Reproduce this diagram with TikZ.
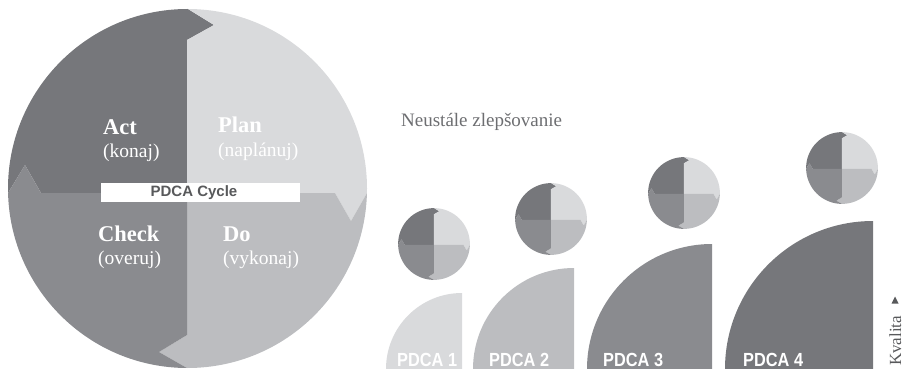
\documentclass[tikz,border=0pt]{standalone}
\usepackage{fontspec}
\setmainfont{Liberation Serif}
\setsansfont{Liberation Sans}
\newfontfamily\tagfont[FakeStretch=0.86]{Liberation Sans Bold}

\definecolor{actc}{HTML}{76777B}
\definecolor{planc}{HTML}{D9DADC}
\definecolor{doc}{HTML}{BCBDC0}
\definecolor{checkc}{HTML}{8A8B8F}
\definecolor{inkgray}{HTML}{58595B}
\definecolor{mottogray}{HTML}{6D6E71}

\tikzset{
  % four-quadrant cycle disc, origin at the disc centre, radius 179.5
  pdca/.pic={
    \begin{scope}
      \clip (0,0) circle[radius=179.5pt];
      \fill[actc] (-0.5,4.5) -- (-0.5,-148.5) -- (26.5,-163.5) -- (0.5,-179.5)
        -- (0.5,-250) -- (-250,-250) -- (-250,4.5) -- (-179.5,4.5)
        -- (-162.5,-23.5) -- (-146.5,4.5) -- cycle;
      \fill[planc] (-0.5,4.5) -- (-0.5,-148.5) -- (26.5,-163.5) -- (0.5,-179.5)
        -- (0.5,-250) -- (250,-250) -- (250,4.5) -- (179.5,4.5)
        -- (163.5,32.5) -- (147.5,4.5) -- cycle;
      \fill[doc] (-0.5,4.5) -- (147.5,4.5) -- (163.5,32.5) -- (179.5,4.5)
        -- (250,4.5) -- (250,250) -- (-0.5,250) -- (-0.5,179.5)
        -- (-28.5,163.5) -- (-0.5,146.5) -- cycle;
      \fill[checkc] (-0.5,4.5) -- (-0.5,146.5) -- (-28.5,163.5) -- (-0.5,179.5)
        -- (-0.5,250) -- (-250,250) -- (-250,4.5) -- (-179.5,4.5)
        -- (-162.5,-23.5) -- (-146.5,4.5) -- cycle;
    \end{scope}
  },
  qtitle/.style={font=\bfseries\fontsize{22.5}{24}\selectfont, text=white,
    anchor=base west, inner sep=0pt},
  qsub/.style={font=\fontsize{19.5}{21}\selectfont, text=white,
    anchor=base west, inner sep=0pt},
  tag/.style={font=\tagfont\fontsize{19}{20}\selectfont, text=white,
    anchor=base west, inner sep=0pt},
}

% quarter disc standing on the bottom edge: colour, corner x, corner y, radius
\newcommand\quarterdisc[4]{%
  \begin{scope}
    \clip (#2-#4,#3-#4) rectangle (#2,#3);
    \fill[#1] (#2,#3) circle[radius=#4pt];
  \end{scope}}

\begin{document}
\begin{tikzpicture}[x=1pt,y=-1pt]
\useasboundingbox (0,0) rectangle (903,369);

% main cycle
\pic (big) at (187.5,188.5) {pdca};

\node[qtitle] (act) at (103,135) {Act};
\node[qsub] (actsub) at (103,157.5) {(konaj)};
\node[qtitle] (plan) at (218,132) {Plan};
\node[qsub] (plansub) at (218,157) {(naplánuj)};
\node[qtitle] (check) at (98,241) {Check};
\node[qsub] (checksub) at (98,264) {(overuj)};
\node[qtitle] (do) at (223,241) {Do};
\node[qsub] (dosub) at (223,264) {(vykonaj)};

\node[fill=white, minimum width=199pt, minimum height=19pt, inner sep=0pt]
  (cyclebox) at (200.5,192.5) {};
\node[font=\sffamily\bfseries\fontsize{15}{16}\selectfont, text=inkgray,
  inner sep=0pt] (cyclelabel) at (194,192.5) {PDCA Cycle};

% improvement staircase
\node[anchor=base west, font=\fontsize{19}{20}\selectfont, text=mottogray,
  inner sep=0pt] (motto) at (401,126) {Neustále zlepšovanie};

\pic[scale=0.2] (c1) at (434,244) {pdca};
\pic[scale=0.2] (c2) at (551,219) {pdca};
\pic[scale=0.2] (c3) at (684,193) {pdca};
\pic[scale=0.2] (c4) at (842,168) {pdca};

\quarterdisc{planc}{462}{369}{76}
\quarterdisc{doc}{574}{369}{101}
\quarterdisc{checkc}{712}{369}{125}
\quarterdisc{actc}{873}{369}{148}

\node[tag] (tag1) at (397,366.5) {PDCA 1};
\node[tag] (tag2) at (489,366.5) {PDCA 2};
\node[tag] (tag3) at (603,366.5) {PDCA 3};
\node[tag] (tag4) at (743,366.5) {PDCA 4};

% quality axis
\node[rotate=90, anchor=base west, font=\fontsize{17}{18}\selectfont,
  text=inkgray, inner sep=0pt] (kvalita) at (901,366) {Kvalita};
\fill[inkgray] (895,296.5) -- (898.5,303.5) -- (891.5,303.5) -- cycle;
\end{tikzpicture}
\end{document}
